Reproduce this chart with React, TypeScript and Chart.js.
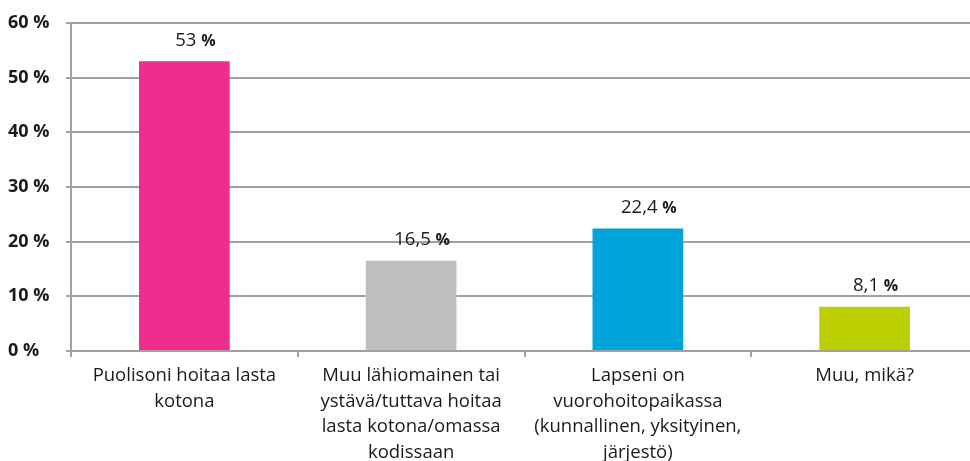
import React, { useEffect, useRef } from "react";
import { Chart, registerables } from "chart.js";
Chart.register(...registerables);

const categories: string[][] = [
  ["Puolisoni hoitaa lasta", "kotona"],
  ["Muu lähiomainen tai", "ystävä/tuttava hoitaa", "lasta kotona/omassa", "kodissaan"],
  ["Lapseni on", "vuorohoitopaikassa", "(kunnallinen, yksityinen,", "järjestö)"],
  ["Muu, mikä?"],
];
const values = [53, 16.5, 22.4, 8.1];
const valueLabels = ["53", "16,5", "22,4", "8,1"];
const barColors = ["#EE2D8F", "#BEBFBE", "#00A3DA", "#BCCF03"];
const yMin = 0;
const yMax = 60;
const yStep = 10;

const FONT = "'Open Sans', sans-serif";

const valueLabelPlugin = {
  id: "valueLabels",
  afterDatasetsDraw(chart: any) {
    const ctx = chart.ctx;
    const meta = chart.getDatasetMeta(0);
    ctx.save();
    ctx.textBaseline = "middle";
    ctx.fillStyle = "#1a1a1a";
    meta.data.forEach((bar: any, i: number) => {
      const num = valueLabels[i];
      const numFont = `18.5px ${FONT}`;
      const pctFont = `bold 16px ${FONT}`;
      ctx.font = numFont;
      const wNum = ctx.measureText(num + " ").width;
      ctx.font = pctFont;
      const wPct = ctx.measureText("%").width;
      const total = wNum + wPct;
      const cx = bar.x + 11;
      const y = bar.y - 21;
      const sx = cx - total / 2;
      ctx.textAlign = "left";
      ctx.font = numFont;
      ctx.fillText(num, sx, y);
      ctx.font = pctFont;
      ctx.fillText("%", sx + wNum, y + 1);
    });
    ctx.restore();
  },
};

export default function App() {
  const ref = useRef<HTMLCanvasElement | null>(null);
  useEffect(() => {
    document.body.style.margin = "0";
    if (!ref.current) return;
    const chart = new Chart(ref.current, {
      type: "bar",
      data: {
        labels: categories,
        datasets: [
          {
            data: values,
            backgroundColor: barColors,
            barPercentage: 0.4,
            categoryPercentage: 1,
          },
        ],
      },
      options: {
        animation: false,
        responsive: false,
        maintainAspectRatio: false,
        layout: { padding: { left: 8, right: 0, top: 23, bottom: 0 } },
        plugins: {
          legend: { display: false },
          tooltip: { enabled: false },
        },
        scales: {
          x: {
            grid: {
              display: true,
              drawOnChartArea: false,
              drawTicks: true,
              tickLength: 6,
              offset: true,
              color: "#a0a0a0",
              lineWidth: 2,
            },
            border: { display: true, color: "#a0a0a0", width: 2 },
            ticks: {
              color: "#1a1a1a",
              font: { family: FONT, size: 18.5, lineHeight: 1.38 },
              padding: 6,
              maxRotation: 0,
              autoSkip: false,
            },
            afterFit(scale: any) {
              scale.height = 110;
            },
          },
          y: {
            min: yMin,
            max: yMax,
            grid: {
              color: "#a0a0a0",
              lineWidth: 2,
              tickLength: 5,
            },
            border: { display: true, color: "#a0a0a0", width: 2 },
            ticks: {
              stepSize: yStep,
              color: "#1a1a1a",
              crossAlign: "far",
              padding: 6,
              font: { family: FONT, size: 18, weight: "bold" },
              callback: (v: any) => `${v} %`,
            },
            afterFit(scale: any) {
              scale.width = 63;
            },
          },
        },
      },
      plugins: [valueLabelPlugin],
    } as any);
    return () => chart.destroy();
  }, []);
  return (
    <div style={{ width: 970, height: 461, overflow: "hidden" }}>
      <canvas ref={ref} width={978} height={461} style={{ width: 978, height: 461, display: "block" }} />
    </div>
  );
}
